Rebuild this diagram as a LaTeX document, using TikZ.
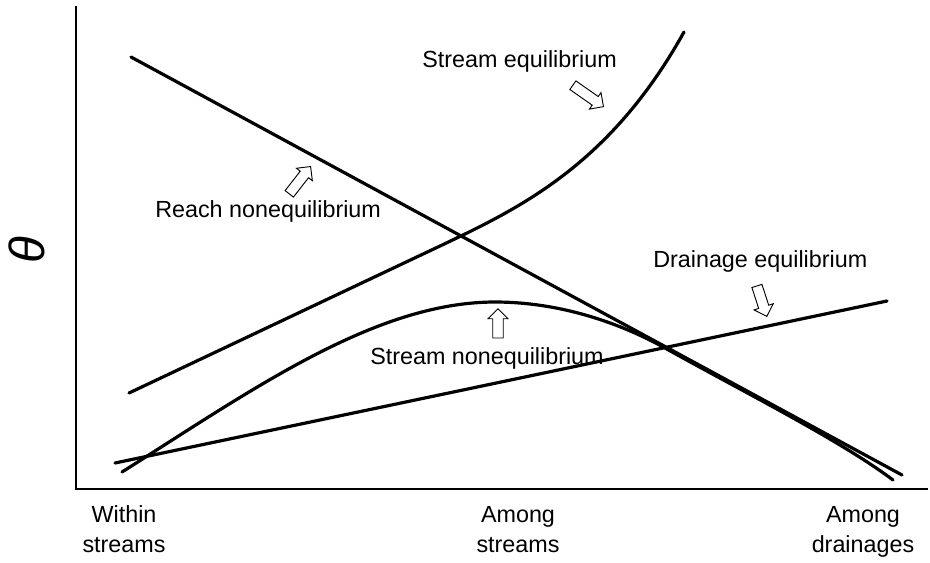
\documentclass[tikz,border=0pt]{standalone}
\usepackage{fontspec}
\setmainfont{Liberation Sans}
\usetikzlibrary{shapes.arrows}
\begin{document}
\begin{tikzpicture}[x=0.75pt,y=-0.75pt]
\tikzset{
  curve/.style={line width=2.4pt, line cap=round, line join=round},
  axis/.style={line width=1.4pt},
  hollow/.style={single arrow, draw, fill=white, line width=0.7pt, inner xsep=0pt, inner ysep=3.6pt,
    minimum width=0pt, single arrow head extend=3.6pt, single arrow head indent=0pt},
  lbl/.style={font=\fontsize{17.5}{21}\selectfont, inner sep=0pt, anchor=base west},
  tick/.style={font=\fontsize{17.5}{22.5}\selectfont, inner sep=0pt, align=center, anchor=base},
}
\useasboundingbox (0,0) rectangle (930,562);
% axes
\coordinate (top) at (76,6);
\coordinate (org) at (76,489);
\coordinate (xend) at (928,489);
\draw[axis] (top) -- (org) -- (xend);
% reach nonequilibrium line
\coordinate (r1) at (131,57);
\coordinate (r2) at (902,475);
\draw[curve] (r1) -- (r2);
% drainage equilibrium line
\coordinate (d1) at (115,463);
\coordinate (d2) at (887,301);
\draw[curve] (d1) -- (d2);
% stream equilibrium curve
\coordinate (e1) at (129,393);
\coordinate (e2) at (440,246);
\coordinate (e3) at (684,32);
\draw[curve] (e1) -- (e2) .. controls (520,208) and (610,165) .. (e3);
% stream nonequilibrium curve
\coordinate (s1) at (122,472);
\coordinate (s2) at (495,302);
\coordinate (s3) at (665,348);
\coordinate (s4) at (893,480);
\draw[curve] (s1) .. controls (252,390) and (375,302) .. (s2)
  .. controls (560,302) and (620,323) .. (s3)
  .. controls (740,390) and (840,440) .. (s4);
% hollow arrows
\node[hollow, minimum height=28pt, rotate=-35, anchor=tip] (a1) at (604,107) {};
\node[hollow, minimum height=26pt, rotate=52, anchor=tip] (a2) at (311,166) {};
\node[hollow, minimum height=22pt, rotate=90, anchor=tip] (a3) at (498,308) {};
\node[hollow, minimum height=24pt, rotate=-72, anchor=tip] (a4) at (767,317) {};
% labels
\node[lbl] (l1) at (422,67) {Stream equilibrium};
\node[lbl] (l2) at (155,217) {Reach nonequilibrium};
\node[lbl] (l3) at (370,364) {Stream nonequilibrium};
\node[lbl] (l4) at (653,267) {Drainage equilibrium};
% axis labels
\node[tick] (t1) at (124,552) {Within\\streams};
\node[tick] (t2) at (518,552) {Among\\streams};
\node[tick] (t3) at (863,552) {Among\\drainages};
\node[rotate=90, inner sep=0pt, font=\fontsize{37}{40}\selectfont\itshape] (th) at (27,250) {θ};
\end{tikzpicture}
\end{document}
